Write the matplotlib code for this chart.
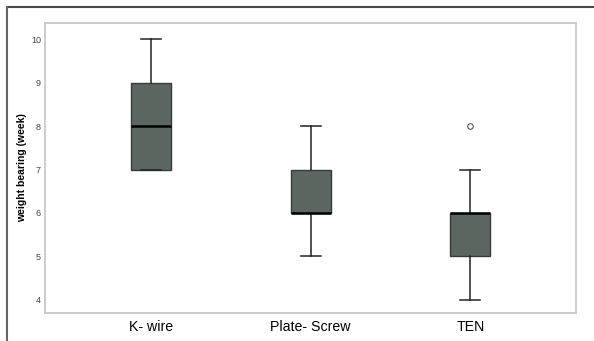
import matplotlib
matplotlib.use("Agg")
import matplotlib.pyplot as plt
from matplotlib.lines import Line2D

plt.rcParams['font.family'] = ['Liberation Sans', 'DejaVu Sans']

# values (weeks)
groups = ["K- wire", "Plate- Screw", "TEN"]
mins = [7, 5, 4]
q1s = [7, 6, 5]
medians = [8, 6, 6]
q3s = [9, 7, 6]
maxs = [10, 8, 7]
outliers = [[], [], [8]]

stats = []
for i in range(len(groups)):
    stats.append({"label": groups[i], "whislo": mins[i], "q1": q1s[i],
                  "med": medians[i], "q3": q3s[i], "whishi": maxs[i],
                  "fliers": outliers[i]})

fig = plt.figure(figsize=(5.94, 3.41), dpi=100)
ax = fig.add_axes([0.0758, 0.0821, 0.8939, 0.8505])

ax.bxp(stats, positions=range(len(groups)), widths=0.25, patch_artist=True,
       boxprops=dict(facecolor="#5b6660", edgecolor="#3a3a3a", linewidth=1.0),
       medianprops=dict(color="black", linewidth=1.8),
       whiskerprops=dict(color="#222222", linewidth=1.1),
       capprops=dict(color="#222222", linewidth=1.1),
       capwidths=0.125,
       flierprops=dict(marker="o", markersize=4, markerfacecolor="white",
                       markeredgecolor="#555555", markeredgewidth=0.8))

ax.set_xlim(-0.66, 2.66)
ax.set_ylim(3.7, 10.37)
ax.set_yticks([4, 5, 6, 7, 8, 9, 10])
ax.tick_params(axis="y", length=0, pad=3, labelsize=6.5, labelcolor="#444444")
ax.tick_params(axis="x", length=0, pad=5, labelsize=10.2, labelcolor="black")
ax.set_ylabel("weight bearing (week)", fontsize=7.5, fontweight="bold", labelpad=3)

for s in ax.spines.values():
    s.set_color("#c8c8c8")
    s.set_linewidth(1.3)

# screenshot frame lines
fig.add_artist(Line2D([7 / 594, 1], [1 - 7 / 341, 1 - 7 / 341],
                      transform=fig.transFigure, color="#4a4a4a", linewidth=1.5))
fig.add_artist(Line2D([7 / 594, 7 / 594], [0, 1 - 7 / 341],
                      transform=fig.transFigure, color="#666666", linewidth=1.5))

fig.savefig("out.png", dpi=100)
